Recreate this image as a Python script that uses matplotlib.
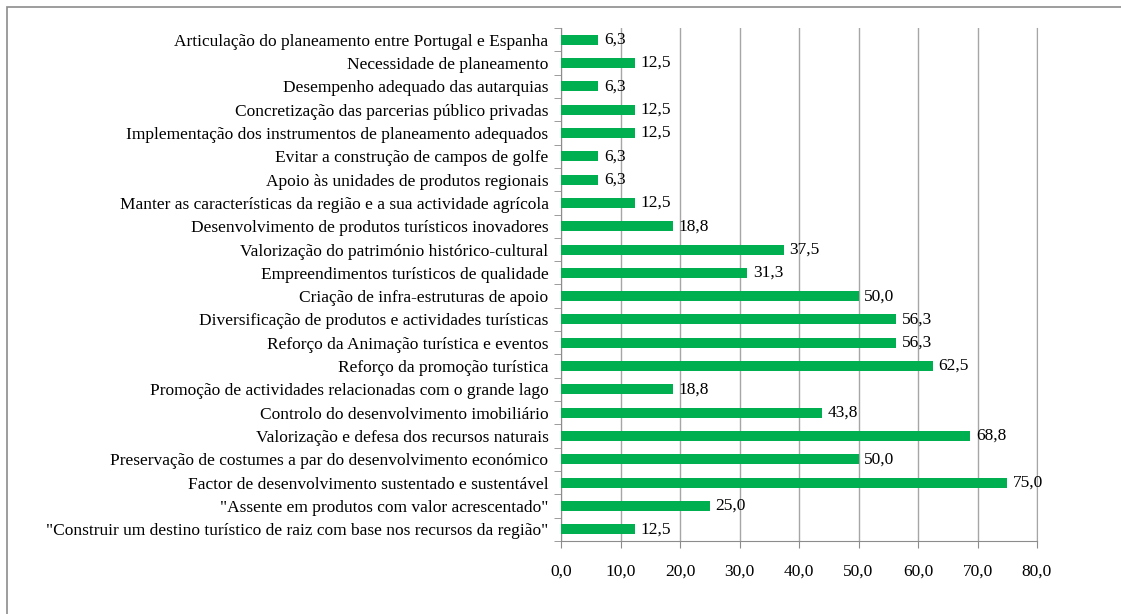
import matplotlib
matplotlib.use("Agg")
from matplotlib import pyplot as plt
from matplotlib.patches import Rectangle
import numpy as np

plt.rcParams['font.family'] = ['Liberation Serif', 'DejaVu Serif']

# categories from bottom to top
categories = [
    '"Construir um destino turístico de raiz com base nos recursos da região"',
    '"Assente em produtos com valor acrescentado"',
    'Factor de desenvolvimento sustentado e sustentável',
    'Preservação de costumes a par do desenvolvimento económico',
    'Valorização e defesa dos recursos naturais',
    'Controlo do desenvolvimento imobiliário',
    'Promoção de actividades relacionadas com o grande lago',
    'Reforço da promoção turística',
    'Reforço da Animação turística e eventos',
    'Diversificação de produtos e actividades turísticas',
    'Criação de infra-estruturas de apoio',
    'Empreendimentos turísticos de qualidade',
    'Valorização do património histórico-cultural',
    'Desenvolvimento de produtos turísticos inovadores',
    'Manter as características da região e a sua actividade agrícola',
    'Apoio às unidades de produtos regionais',
    'Evitar a construção de campos de golfe',
    'Implementação dos instrumentos de planeamento adequados',
    'Concretização das parcerias público privadas',
    'Desempenho adequado das autarquias',
    'Necessidade de planeamento',
    'Articulação do planeamento entre Portugal e Espanha',
]
values = [12.5, 25.0, 75.0, 50.0, 68.8, 43.8, 18.8, 62.5, 56.3, 56.3, 50.0,
          31.3, 37.5, 18.8, 12.5, 6.3, 6.3, 12.5, 12.5, 6.3, 12.5, 6.3]
xticks = [0, 10, 20, 30, 40, 50, 60, 70, 80]

green = '#00B050'
axis_col = '#8C8C8C'
grid_col = '#A6A6A6'
fs = 12.5

fig = plt.figure(figsize=(11.21, 6.14), dpi=100)
ax = fig.add_axes([561/1121, 1 - 541/614, 476/1121, 513/614])

y = np.arange(len(categories))
bars = ax.barh(y, values, height=0.43, color=green, zorder=3)
ax.bar_label(bars, labels=[f'{v:.1f}'.replace('.', ',') for v in values],
             padding=4, fontsize=fs)

ax.set_xlim(0, 80)
ax.set_ylim(-0.5, len(categories) - 0.5)
ax.set_xticks(xticks)
ax.set_xticklabels([f'{t:.1f}'.replace('.', ',') for t in xticks], fontsize=fs)
ax.set_yticks(y)
ax.set_yticklabels(categories, fontsize=fs)
ax.set_yticks(np.arange(len(categories) + 1) - 0.5, minor=True)
ax.tick_params(axis='y', which='major', length=0, pad=9)
ax.tick_params(axis='y', which='minor', length=5, color=axis_col)
ax.tick_params(axis='x', length=5, color=axis_col, pad=11, direction='out')
ax.xaxis.grid(True, color=grid_col, linewidth=1, zorder=0)

ax.spines['top'].set_visible(False)
ax.spines['right'].set_color(grid_col)
for s in ['left', 'bottom']:
    ax.spines[s].set_color(axis_col)

# chart-area border (right and bottom edges fall outside the picture)
fig.patches.append(Rectangle((6.5/1121, -0.05), 1.1, 1 - 7/614 + 0.05,
                             transform=fig.transFigure, fill=False,
                             edgecolor='#8C8C8C', linewidth=1.2))

fig.savefig('out.png', dpi=100)
